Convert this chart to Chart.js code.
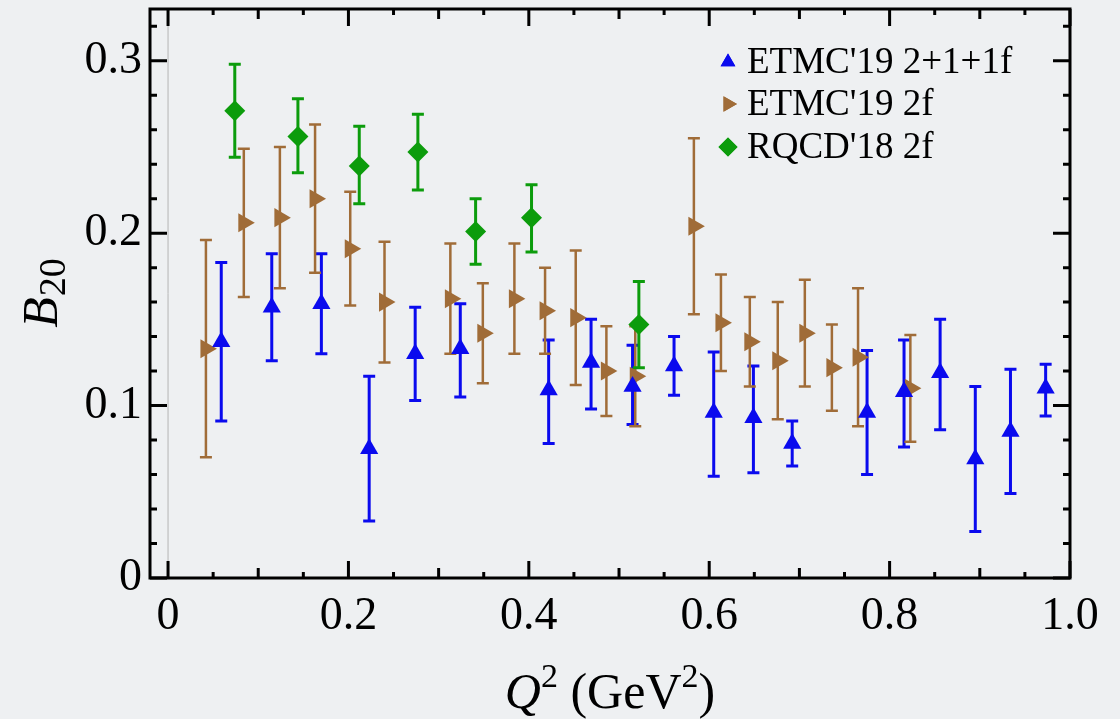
<!DOCTYPE html>
<html>
<head>
<meta charset="utf-8">
<title>B20 vs Q2</title>
<script src="https://cdn.jsdelivr.net/npm/chart.js@4.4.1/dist/chart.umd.min.js"></script>
<style>
  html, body { margin: 0; padding: 0; background: #eef0f2; }
  #box { width: 1120px; height: 719px; position: relative; }
</style>
</head>
<body>
<div id="box"><canvas id="grafico"></canvas></div>
<script>
// ETMC'19 2+1+1f (blue, up triangles)
const etmc4X  = [0.059, 0.115, 0.170, 0.223, 0.274, 0.324, 0.422, 0.469, 0.515, 0.561, 0.605, 0.649, 0.692, 0.775, 0.816, 0.856, 0.895, 0.934, 0.973];
const etmc4Y  = [0.137, 0.157, 0.159, 0.075, 0.130, 0.133, 0.109, 0.125, 0.111, 0.123, 0.096, 0.093, 0.078, 0.096, 0.108, 0.119, 0.069, 0.085, 0.110];
const etmc4Hi = [0.183, 0.188, 0.188, 0.117, 0.157, 0.159, 0.138, 0.150, 0.135, 0.140, 0.131, 0.123, 0.091, 0.132, 0.138, 0.150, 0.111, 0.121, 0.124];
const etmc4Lo = [0.091, 0.126, 0.130, 0.033, 0.103, 0.105, 0.078, 0.098, 0.089, 0.106, 0.059, 0.061, 0.065, 0.060, 0.076, 0.086, 0.027, 0.049, 0.094];

// ETMC'19 2f (brown, right triangles)
const etmc2X  = [0.042, 0.084, 0.124, 0.163, 0.202, 0.240, 0.313, 0.349, 0.384, 0.418, 0.452, 0.486, 0.518, 0.583, 0.613, 0.645, 0.676, 0.706, 0.736, 0.765, 0.823];
const etmc2Y  = [0.133, 0.206, 0.209, 0.220, 0.191, 0.160, 0.162, 0.142, 0.162, 0.155, 0.151, 0.120, 0.117, 0.204, 0.148, 0.137, 0.126, 0.142, 0.122, 0.128, 0.110];
const etmc2Hi = [0.196, 0.249, 0.250, 0.263, 0.224, 0.195, 0.194, 0.171, 0.194, 0.180, 0.190, 0.146, 0.146, 0.255, 0.176, 0.163, 0.160, 0.173, 0.147, 0.168, 0.141];
const etmc2Lo = [0.070, 0.163, 0.168, 0.177, 0.158, 0.125, 0.130, 0.113, 0.130, 0.130, 0.112, 0.094, 0.088, 0.153, 0.120, 0.111, 0.092, 0.111, 0.097, 0.088, 0.079];

// RQCD'18 2f (green, diamonds)
const rqcdX  = [0.074, 0.144, 0.212, 0.277, 0.341, 0.403, 0.522];
const rqcdY  = [0.271, 0.256, 0.239, 0.247, 0.201, 0.209, 0.147];
const rqcdHi = [0.298, 0.278, 0.262, 0.269, 0.220, 0.228, 0.172];
const rqcdLo = [0.244, 0.235, 0.217, 0.225, 0.182, 0.189, 0.122];

const seriesNames = ["ETMC'19 2+1+1f", "ETMC'19 2f", "RQCD'18 2f"];

const xTicks = [0, 0.2, 0.4, 0.6, 0.8, 1.0];
const xTickLabels = ['0', '0.2', '0.4', '0.6', '0.8', '1.0'];
const yTicks = [0, 0.1, 0.2, 0.3];
const yTickLabels = ['0', '0.1', '0.2', '0.3'];

const FONT = "'Liberation Serif', 'DejaVu Serif', serif";

function puntos(xs, ys, hi, lo){
    return xs.map((x, i) => ({ x: x, y: ys[i], hi: hi[i], lo: lo[i] }));
}

// error bars under the markers
const barras = {
    id: 'barras',
    beforeDatasetsDraw(chart){
        const ctx = chart.ctx;
        const ys = chart.scales.y;
        const a = chart.chartArea;
        // thin line at x = 0
        ctx.save();
        ctx.strokeStyle = '#b4b4b4';
        ctx.lineWidth = 1;
        const x0 = chart.scales.x.getPixelForValue(0);
        ctx.beginPath();
        ctx.moveTo(x0, a.top);
        ctx.lineTo(x0, a.bottom);
        ctx.stroke();
        ctx.restore();

        chart.data.datasets.forEach((ds, d) => {
            const meta = chart.getDatasetMeta(d);
            ctx.save();
            ctx.strokeStyle = ds.borderColor;
            ctx.lineWidth = ds.errWidth;
            meta.data.forEach((pt, i) => {
                const p = ds.data[i];
                const top = ys.getPixelForValue(p.hi);
                const bot = ys.getPixelForValue(p.lo);
                ctx.beginPath();
                ctx.moveTo(pt.x, top); ctx.lineTo(pt.x, bot);
                ctx.moveTo(pt.x - 6, top); ctx.lineTo(pt.x + 6, top);
                ctx.moveTo(pt.x - 6, bot); ctx.lineTo(pt.x + 6, bot);
                ctx.stroke();
            });
            ctx.restore();
        });
    }
};

// frame with inward ticks on all four sides
const marco = {
    id: 'marco',
    afterDatasetsDraw(chart){
        const ctx = chart.ctx;
        const a = chart.chartArea;
        const xs = chart.scales.x, ys = chart.scales.y;
        ctx.save();
        ctx.strokeStyle = '#000';
        ctx.lineWidth = 3;
        ctx.strokeRect(a.left, a.top, a.right - a.left, a.bottom - a.top);
        ctx.beginPath();
        for (let k = 0; k <= 20; k++){
            const px = xs.getPixelForValue(k * 0.05);
            const len = k % 4 == 0 ? 17 : (k % 2 == 0 ? 10 : 6);
            ctx.moveTo(px, a.bottom); ctx.lineTo(px, a.bottom - len);
            ctx.moveTo(px, a.top); ctx.lineTo(px, a.top + len);
        }
        for (let k = 0; k <= 16; k++){
            const py = ys.getPixelForValue(k * 0.02);
            const len = k % 5 == 0 ? 17 : 7;
            ctx.moveTo(a.left, py); ctx.lineTo(a.left + len, py);
            ctx.moveTo(a.right, py); ctx.lineTo(a.right - len, py);
        }
        ctx.stroke();
        ctx.restore();
    },
    afterDraw(chart){
        const ctx = chart.ctx;
        const a = chart.chartArea;
        ctx.save();
        ctx.fillStyle = '#000';
        ctx.textBaseline = 'alphabetic';
        ctx.textAlign = 'left';

        // x title: Q^2 (GeV^2)
        const big = '50px ' + FONT, bigIt = 'italic 50px ' + FONT, sup = '34px ' + FONT;
        const partes = [
            { t: 'Q', f: bigIt, dy: 0 },
            { t: '2', f: sup, dy: -21 },
            { t: ' (GeV', f: big, dy: 0 },
            { t: '2', f: sup, dy: -21 },
            { t: ')', f: big, dy: 0 }
        ];
        let total = 0;
        partes.forEach(p => { ctx.font = p.f; p.w = ctx.measureText(p.t).width; total += p.w; });
        let cx = (a.left + a.right) / 2 - total / 2;
        partes.forEach(p => { ctx.font = p.f; ctx.fillText(p.t, cx, 708 + p.dy); cx += p.w; });

        // y title: B_20
        ctx.save();
        ctx.translate(57, 0);
        ctx.rotate(-Math.PI / 2);
        ctx.font = 'italic 50px ' + FONT;
        const wB = ctx.measureText('B').width;
        ctx.font = '38px ' + FONT;
        const w20 = ctx.measureText('20').width;
        const mid = -(a.top + a.bottom) / 2;
        let sx = mid - (wB + w20) / 2;
        ctx.font = 'italic 50px ' + FONT;
        ctx.fillText('B', sx, 0);
        ctx.font = '38px ' + FONT;
        ctx.fillText('20', sx + wB + 1, 8);
        ctx.restore();

        // legend
        const filas = [62, 104, 147];
        chart.data.datasets.forEach((ds, d) => {
            const opts = { pointStyle: ds.pointStyle, rotation: ds.rotation || 0, radius: ds.legendRadius, borderWidth: 0 };
            ctx.fillStyle = ds.backgroundColor;
            ctx.beginPath();
            Chart.helpers.drawPoint(ctx, opts, 728, filas[d]);
            ctx.fill();
            ctx.fillStyle = '#000';
            ctx.font = '37px ' + FONT;
            ctx.fillText(ds.label, 747, filas[d] + 11);
        });
        ctx.restore();
    }
};

let canvas = document.getElementById('grafico').getContext('2d');

let datos = {
    datasets: [
        {
            label: seriesNames[0],
            data: puntos(etmc4X, etmc4Y, etmc4Hi, etmc4Lo),
            pointStyle: 'triangle',
            rotation: 0,
            pointRadius: 10.5,
            legendRadius: 8.5,
            borderColor: '#0a0aee',
            backgroundColor: '#0a0aee',
            pointBorderWidth: 0,
            errWidth: 3
        },
        {
            label: seriesNames[1],
            data: puntos(etmc2X, etmc2Y, etmc2Hi, etmc2Lo),
            pointStyle: 'triangle',
            rotation: 90,
            pointRadius: 11,
            legendRadius: 9,
            borderColor: '#a06c38',
            backgroundColor: '#a06c38',
            pointBorderWidth: 0,
            errWidth: 2.5
        },
        {
            label: seriesNames[2],
            data: puntos(rqcdX, rqcdY, rqcdHi, rqcdLo),
            pointStyle: 'rectRot',
            rotation: 0,
            pointRadius: 10.5,
            legendRadius: 9.5,
            borderColor: '#0c9c0c',
            backgroundColor: '#0c9c0c',
            pointBorderWidth: 0,
            errWidth: 3
        }
    ]
};

let opciones = {
    responsive: true,
    maintainAspectRatio: false,
    animation: false,
    layout: { autoPadding: false, padding: { top: 9, right: 50, left: 0, bottom: 0 } },
    plugins: {
        legend: { display: false },
        tooltip: { enabled: false }
    },
    scales: {
        x: {
            type: 'linear',
            min: -0.02,
            max: 1.0,
            grid: { display: false, drawTicks: false },
            border: { display: false },
            afterBuildTicks: s => { s.ticks = xTicks.map(v => ({ value: v })); },
            afterFit: s => { s.height = 141; s.paddingLeft = 0; s.paddingRight = 0; },
            ticks: {
                padding: 11,
                color: '#000',
                font: { family: FONT, size: 46 },
                maxRotation: 0,
                callback: v => xTickLabels[xTicks.indexOf(v)]
            }
        },
        y: {
            type: 'linear',
            min: 0,
            max: 0.33,
            grid: { display: false, drawTicks: false },
            border: { display: false },
            afterBuildTicks: s => { s.ticks = yTicks.map(v => ({ value: v })); },
            afterFit: s => { s.width = 150; s.paddingTop = 0; s.paddingBottom = 0; },
            ticks: {
                padding: 8,
                color: '#000',
                font: { family: FONT, size: 46 },
                callback: v => yTickLabels[yTicks.indexOf(v)]
            }
        }
    }
};

let G1 = new Chart(canvas, {
    type: 'scatter',
    data: datos,
    options: opciones,
    plugins: [barras, marco]
});
</script>
</body>
</html>
